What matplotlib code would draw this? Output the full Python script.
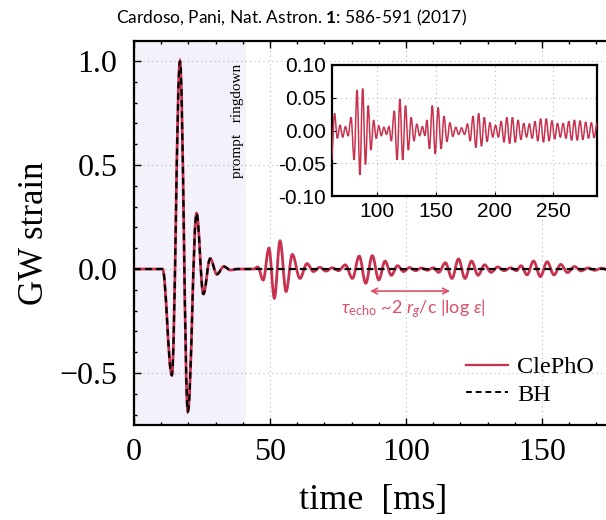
import matplotlib.pyplot as plt
from matplotlib.path import Path
from matplotlib.patches import PathPatch
from matplotlib.lines import Line2D

plt.rcParams['mathtext.fontset'] = 'custom'
plt.rcParams['mathtext.rm'] = 'Lato'
plt.rcParams['mathtext.it'] = 'Lato:italic'
plt.rcParams['mathtext.bf'] = 'Lato:bold'

# extrema (time [ms], strain)
ring_t = [0, 10.5, 13.9, 16.9, 19.8, 23.0, 25.5, 28.0, 30.5, 33.0, 35.5, 38.0]
ring_h = [0, 0, -0.51, 1.0, -0.685, 0.268, -0.12, 0.05, -0.025, 0.012, -0.005, 0]

echo1_t = [44.0, 45.5, 47.5, 49.6, 51.6, 53.7, 55.9, 58.2, 61.0, 63.6, 66.0, 68.3, 70.6, 72.9, 75.2]
echo1_h = [0.0, 0.01, -0.053, 0.10, -0.14, 0.135, -0.108, 0.07, -0.045, 0.026, -0.012, 0.008, -0.010, 0.006, -0.008]
echo2_t = [77.7, 80.3, 82.8, 85.2, 87.6, 90.0, 92.3, 94.6, 96.9, 99.1, 101.3, 103.5, 105.7, 107.9, 110.0]
echo2_h = [0.02, -0.045, 0.062, -0.068, 0.064, -0.052, 0.038, -0.03, 0.016, -0.012, 0.007, -0.008, 0.005, -0.006, 0.006]
echo3_t = [112.0, 114.5, 116.9, 119.3, 121.7, 124.1, 126.5, 128.9, 131.3, 133.7, 136.1, 138.5, 140.6]
echo3_h = [-0.016, 0.03, -0.045, 0.048, -0.045, 0.038, -0.03, 0.02, -0.016, 0.01, -0.008, 0.006, -0.008]
echo4_t = [142.3, 144.5, 146.9, 149.4, 151.9, 154.4, 156.9, 159.4, 161.9, 164.4, 166.9, 169.4, 171.9, 174.4]
echo4_h = [0.016, -0.028, 0.038, -0.036, 0.035, -0.028, 0.022, -0.017, 0.012, -0.009, 0.005, -0.006, 0.004, -0.006]
echo5_t = [176.9, 179.2, 181.6, 184.0, 186.4, 188.8, 191.2, 193.6, 196.0, 198.4, 200.8, 203.2]
echo5_h = [0.01, -0.016, 0.022, -0.026, 0.026, -0.024, 0.02, -0.017, 0.012, -0.01, 0.008, -0.01]
echo6_t = [205.6, 208.0, 210.4, 212.8, 215.2, 217.6, 220.0, 222.4, 224.8, 227.2, 229.6, 232.0]
echo6_h = [0.014, -0.018, 0.02, -0.02, 0.02, -0.018, 0.016, -0.014, 0.011, -0.01, 0.01, -0.012]
echo7_t = [234.4, 236.8, 239.2, 241.6, 244.0, 246.4, 248.8, 251.2, 253.6, 256.0, 258.4, 260.8]
echo7_h = [0.014, -0.016, 0.018, -0.018, 0.018, -0.016, 0.015, -0.013, 0.011, -0.01, 0.011, -0.012]
echo8_t = [263.2, 265.6, 268.0, 270.4, 272.8, 275.2, 277.6, 280.0, 282.4, 284.8, 287.2, 289.6, 292.0]
echo8_h = [0.014, -0.015, 0.016, -0.015, 0.015, -0.014, 0.013, -0.012, 0.012, -0.011, 0.011, -0.01, 0.01]

bh_t = ring_t + [300]
bh_h = ring_h + [0]
clepho_t = ring_t + echo1_t + echo2_t + echo3_t + echo4_t + echo5_t + echo6_t + echo7_t + echo8_t
clepho_h = ring_h + echo1_h + echo2_h + echo3_h + echo4_h + echo5_h + echo6_h + echo7_h + echo8_h

red = '#c8324f'
anno_red = '#dc5068'


def wave_path(t, h, k=0.364):
    # smooth curve through the extrema (flat tangent at each one)
    verts = [(t[0], h[0])]
    codes = [Path.MOVETO]
    for i in range(len(t) - 1):
        dt = t[i + 1] - t[i]
        verts += [(t[i] + k * dt, h[i]), (t[i + 1] - k * dt, h[i + 1]), (t[i + 1], h[i + 1])]
        codes += [Path.CURVE4] * 3
    return Path(verts, codes)


fig = plt.figure(figsize=(6.06, 5.2), dpi=100)
ax = fig.add_axes([134 / 606, 95 / 520, 489.6 / 606, 383.5 / 520])
ax.set_xlim(0, 180)
ax.set_ylim(-0.75, 1.094)

ax.axvspan(0, 41, color='#f3f2fb', zorder=0.3, lw=0)
ax.set_axisbelow(True)
ax.grid(True, color='#b8b8b8', linestyle=(0, (1, 3)), lw=0.8)

ax.add_patch(PathPatch(wave_path(clepho_t, clepho_h), fill=False, ec=red, lw=2.0, zorder=3))
ax.add_patch(PathPatch(wave_path(bh_t, bh_h), fill=False, ec='black', lw=1.6,
                       linestyle=(0, (3, 2)), zorder=4))

ax.set_xticks([0, 50, 100, 150])
ax.set_xticks(range(0, 181, 10), minor=True)
ax.set_yticks([-0.5, 0.0, 0.5, 1.0])
ax.set_yticks([v / 10 for v in range(-7, 11)], minor=True)
ax.tick_params(which='both', direction='in', top=True, right=True, width=1.0)
ax.tick_params(which='major', length=5, labelsize=23, pad=9)
ax.tick_params(axis='y', which='major', pad=12)
ax.tick_params(which='minor', length=2.5)
for lab in ax.get_xticklabels() + ax.get_yticklabels():
    lab.set_fontfamily('Liberation Serif')
for sp in ax.spines.values():
    sp.set_linewidth(1.6)

ax.set_xlabel('time  [ms]', family='Liberation Serif', fontsize=26)
ax.xaxis.set_label_coords(0.488, -0.155)
ax.set_ylabel('GW strain', family='Liberation Serif', fontsize=25)
ax.yaxis.set_label_coords(-0.17, 0.5)

ax.text(38.2, 0.71, 'prompt   ringdown', rotation=90, ha='center', va='center',
        family='Liberation Serif', fontsize=11)

ax.annotate('', xy=(86.8, -0.106), xytext=(116.2, -0.106),
            arrowprops=dict(arrowstyle='<->', color=anno_red, lw=1.2, shrinkA=0, shrinkB=0))
ax.text(102.6, -0.19, r'$\tau_{\mathrm{echo}}$ ~2 $r_g$/c |log $\epsilon$|', color=anno_red,
        ha='center', va='center', fontsize=13, family='Lato')

handles = [Line2D([], [], color=red, lw=1.6), Line2D([], [], color='black', lw=1.4, linestyle=(0, (3, 2)))]
ax.legend(handles, ['ClePhO', 'BH'], loc='center left', bbox_to_anchor=(0.678, 0.115),
          frameon=False, borderpad=0, borderaxespad=0, handlelength=1.75, handletextpad=0.35,
          labelspacing=0.22, prop={'family': 'Liberation Serif', 'size': 17.5})

# inset
ins = fig.add_axes([331.7 / 606, 324 / 520, 265.6 / 606, 131 / 520])
ins.set_facecolor('white')
ins.set_xlim(61.2, 287.5)
ins.set_ylim(-0.1, 0.1)
ins.add_patch(PathPatch(wave_path(clepho_t, clepho_h), fill=False, ec=red, lw=1.1, zorder=3))
ins.set_xticks([100, 150, 200, 250])
ins.set_yticks([-0.1, -0.05, 0.0, 0.05, 0.1])
ins.yaxis.set_major_formatter(plt.FormatStrFormatter('%.2f'))
ins.set_axisbelow(True)
ins.grid(True, color='#b8b8b8', linestyle=(0, (1, 3)), lw=0.8)
ins.tick_params(direction='in', length=3, labelsize=15, pad=4)
for lab in ins.get_xticklabels() + ins.get_yticklabels():
    lab.set_fontfamily('Liberation Sans')
for sp in ins.spines.values():
    sp.set_linewidth(1.6)

fig.text(291 / 606, 1 - 17.5 / 520, r'Cardoso, Pani, Nat. Astron. $\mathbf{1}$: 586-591 (2017)',
         ha='center', va='center', fontsize=12.5, family='Lato')

fig.savefig('out.png', dpi=100)
